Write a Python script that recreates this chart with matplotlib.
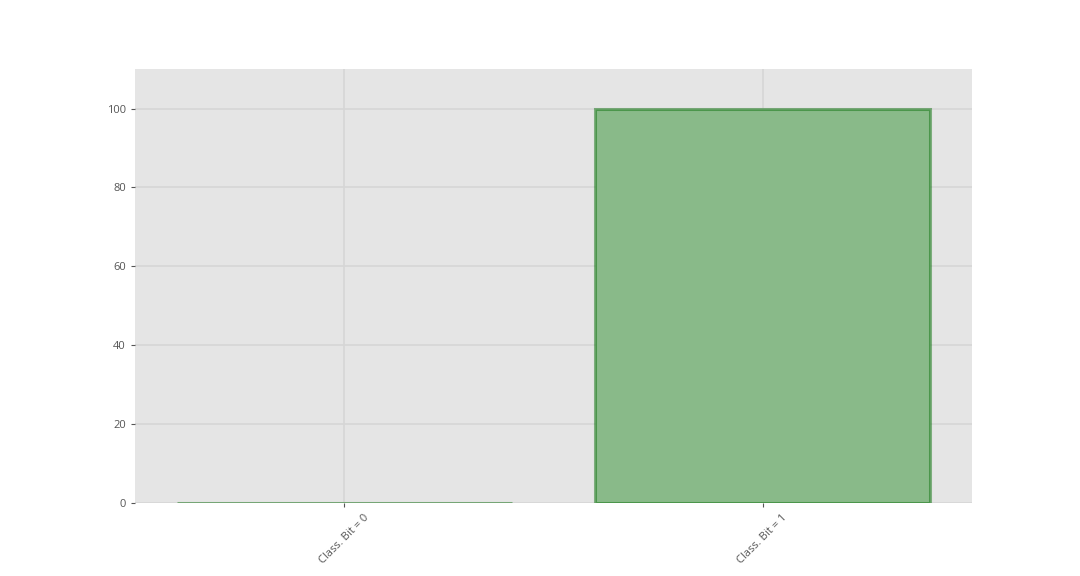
import matplotlib
matplotlib.use("Agg")
import matplotlib.pyplot as plt

plt.style.use("ggplot")
plt.rcParams['font.family'] = ['Open Sans', 'DejaVu Sans']

# class bit distribution (percent)
categories = ["Class. Bit = 0", "Class. Bit = 1"]
values = [0, 100]
yticks = [0, 20, 40, 60, 80, 100]

fig = plt.figure(figsize=(10.8, 5.76), dpi=100)
ax = fig.add_axes([0.125, 0.127, 0.775, 0.753])
ax.set_facecolor("#e5e5e5")

x = list(range(len(categories)))
# opaque fill so the grid does not show through, translucent edge on top
ax.bar(x, values, width=0.8, color="#89ba89", edgecolor=(0.0, 0.42, 0.0, 0.45),
       linewidth=2.2, zorder=2)

ax.set_xlim(-0.5, 1.5)
ax.set_ylim(0, 110)
ax.set_yticks(yticks)
ax.set_xticks(x)
ax.set_xticklabels(categories, rotation=45, fontsize=8, color="#555555")
ax.tick_params(axis="y", labelsize=8, labelcolor="#555555")
ax.tick_params(axis="both", color="#555555", length=3, width=0.8)
ax.grid(True, color="#d6d6d6", linewidth=1.2)
ax.set_axisbelow(True)
for s in ax.spines.values():
    s.set_visible(False)

fig.savefig("out.png", dpi=100, facecolor="white")
